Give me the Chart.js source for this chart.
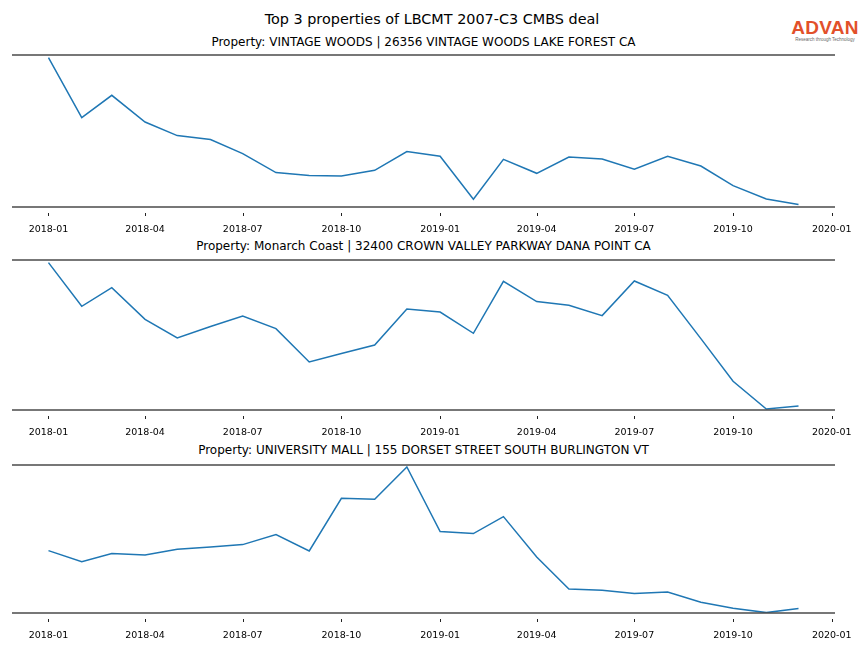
<!DOCTYPE html>
<html>
<head>
<meta charset="utf-8">
<script src="https://cdn.jsdelivr.net/npm/chart.js@4.4.0/dist/chart.umd.min.js"></script>
<style>
  body { margin: 0; background: #fff; }
  #wrap { position: relative; width: 864px; height: 648px; font-family: "DejaVu Sans", sans-serif; color: #000; }
  .txt { position: absolute; left: 0; width: 864px; text-align: center; white-space: nowrap; }
  .sub { left: 12px; width: 823px; }
  canvas { position: absolute; left: 0; }
  #logo { position: absolute; left: 788px; top: 18px; width: 74px; text-align: center; }
  #logo .name { font-family: "Liberation Sans", Arial, sans-serif; font-size: 19px; font-weight: bold; color: #e2502a; letter-spacing: 0.3px; line-height: 19px; }
  #logo .tag { font-family: "Liberation Sans", Arial, sans-serif; font-size: 4.5px; color: #666; line-height: 6px; }
</style>
</head>
<body>
<div id="wrap">
  <div class="txt" style="top:11px; font-size:14.4px;">Top 3 properties of LBCMT 2007-C3 CMBS deal</div>
  <div class="txt sub" id="t0" style="top:35px; font-size:12px;"></div>
  <div class="txt sub" id="t1" style="top:239px; font-size:12px;"></div>
  <div class="txt sub" id="t2" style="top:443px; font-size:12px;"></div>
  <div id="logo"><div class="name">ADVAN</div><div class="tag">Research through Technology</div></div>
  <canvas id="c0" width="864" height="190" style="top:50px"></canvas>
  <canvas id="c1" width="864" height="188" style="top:255px"></canvas>
  <canvas id="c2" width="864" height="186" style="top:460px"></canvas>
</div>
<script>
// --- Data (monthly; no y axis is shown so units are relative) ---
const months = ['2018-01','2018-02','2018-03','2018-04','2018-05','2018-06','2018-07','2018-08','2018-09','2018-10','2018-11','2018-12',
                '2019-01','2019-02','2019-03','2019-04','2019-05','2019-06','2019-07','2019-08','2019-09','2019-10','2019-11','2019-12'];
const tickLabels = ['2018-01','2018-04','2018-07','2018-10','2019-01','2019-04','2019-07','2019-10','2020-01'];

const titles = [
  'Property: VINTAGE WOODS | 26356 VINTAGE WOODS LAKE FOREST CA',
  'Property: Monarch Coast | 32400 CROWN VALLEY PARKWAY DANA POINT CA',
  'Property: UNIVERSITY MALL | 155 DORSET STREET SOUTH BURLINGTON VT'
];

const vintageWoods = [149.4, 89.4, 111.7, 85, 71.4, 67.4, 53.4, 34.4, 31.4, 31, 36.7, 55.4,
                      50.7, 7.7, 47.7, 33.7, 50, 48, 37.7, 50.7, 41, 21.4, 8, 2.4];
const monarchCoast = [147.4, 103.7, 122.4, 90.7, 72, 83.5, 94, 81.4, 48, 56.5, 65, 101,
                      98, 76.7, 128.7, 108.4, 104.7, 94.4, 129, 114.7, 71.4, 28.7, 1, 4];
const universityMall = [62.4, 51.4, 59.4, 58, 63.7, 66, 68.4, 78.4, 62, 114.7, 113.7, 146,
                        81.4, 79.4, 96.4, 56, 24, 22.7, 19.4, 21, 10.7, 4.7, 0.4, 4.4];

// y limits per panel (relative units)
const yLimits = [[0, 152], [0, 150], [0, 148]];
const series = [vintageWoods, monarchCoast, universityMall];

// --- helpers ---
const dayMs = 86400000;
const origin = Date.UTC(2018, 0, 1);
function toDays(label) {
  const [y, m] = label.split('-').map(Number);
  return (Date.UTC(y, m - 1, 1) - origin) / dayMs;
}
const monthDays = months.map(toDays);
const tickDays = tickLabels.map(toDays);

// top / bottom spines and offset tick marks (matplotlib look)
const spinesPlugin = {
  id: 'spines',
  afterDraw(chart) {
    const { ctx, chartArea } = chart;
    const xs = chart.scales.x;
    ctx.save();
    ctx.strokeStyle = '#4a4a4a';
    ctx.lineWidth = 1.6;
    [chartArea.top, chartArea.bottom].forEach(y => {
      ctx.beginPath();
      ctx.moveTo(chartArea.left, y);
      ctx.lineTo(chartArea.right, y);
      ctx.stroke();
    });
    ctx.strokeStyle = '#222';
    ctx.lineWidth = 1;
    xs.ticks.forEach((t, i) => {
      const x = Math.round(xs.getPixelForTick(i)) + 0.5;
      ctx.beginPath();
      ctx.moveTo(x, chartArea.bottom + 6);
      ctx.lineTo(x, chartArea.bottom + 9);
      ctx.stroke();
    });
    ctx.restore();
  }
};

series.forEach((vals, i) => {
  document.getElementById('t' + i).textContent = titles[i];
  new Chart(document.getElementById('c' + i), {
    type: 'line',
    data: {
      datasets: [{
        data: vals.map((v, k) => ({ x: monthDays[k], y: v })),
        borderColor: '#1f77b4',
        borderWidth: 1.5,
        pointRadius: 0,
        tension: 0,
        fill: false
      }]
    },
    options: {
      responsive: false,
      animation: false,
      layout: { padding: { left: 12, right: 29, top: 5, bottom: 0 } },
      plugins: { legend: { display: false }, tooltip: { enabled: false } },
      scales: {
        x: {
          type: 'linear',
          min: -34,
          max: 733,
          grid: { display: false },
          border: { display: false },
          afterBuildTicks: s => { s.ticks = tickDays.map(v => ({ value: v })); },
          afterFit: s => { s.height = 33; },
          ticks: {
            padding: 9,
            maxRotation: 0,
            autoSkip: false,
            color: '#000',
            font: { family: 'DejaVu Sans', size: 9.5 },
            callback: v => tickLabels[tickDays.indexOf(v)]
          }
        },
        y: {
          display: false,
          min: yLimits[i][0],
          max: yLimits[i][1]
        }
      }
    },
    plugins: [spinesPlugin]
  });
});
</script>
</body>
</html>
